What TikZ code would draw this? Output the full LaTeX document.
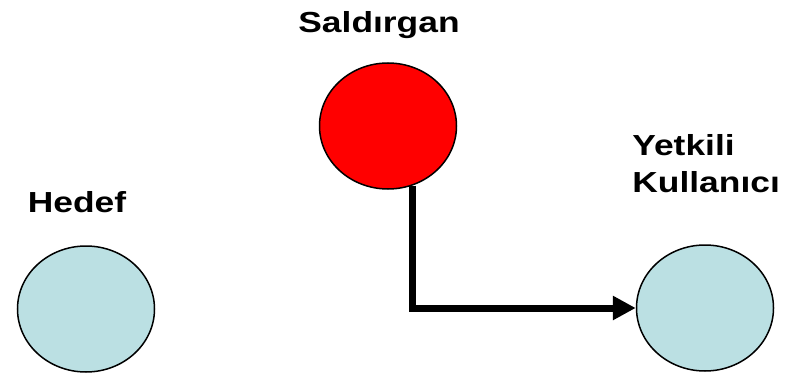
\documentclass[tikz,border=0pt]{standalone}
\usepackage{fontspec}
\usepackage{tikz}
\usetikzlibrary{arrows.meta,shapes.geometric,positioning}
\newfontfamily\lblfont{Liberation Sans}[FakeStretch=1.22]
\definecolor{atkRed} {RGB}{255,0,0}
\definecolor{usrBlue}{RGB}{187,224,227}

\begin{document}
\begin{tikzpicture}[x=0.5pt,y=-0.5pt,
          no/.style={ellipse,draw=black,line width=0.75pt,inner sep=0pt,
                     minimum width=68.5pt,minimum height=63pt},
          lbl/.style={font=\lblfont\bfseries\fontsize{14.5}{18.5}\selectfont,
                      inner sep=0pt}]
          \useasboundingbox (0,0) rectangle (798,374);
          \node[no,fill=atkRed]  (atk)     at (388,126) {};
          \node[no,fill=usrBlue] (hedef)   at (86,309)  {};
          \node[no,fill=usrBlue] (yetkili) at (705,308) {};
          \node[lbl,anchor=base] (atkL)   at (379,33)  {Saldırgan};
          \node[lbl,anchor=base] (hedefL) at (77,213) {Hedef};
          \node[lbl,anchor=base west,align=left] (yetkiliL) at (632,192)
            {Yetkili\\Kullanıcı};
          \draw[line width=3.5pt,-{Triangle[length=11.5pt,width=11.5pt]}]
            (atk.-68) |- (yetkili.west);
        \end{tikzpicture}
\end{document}
